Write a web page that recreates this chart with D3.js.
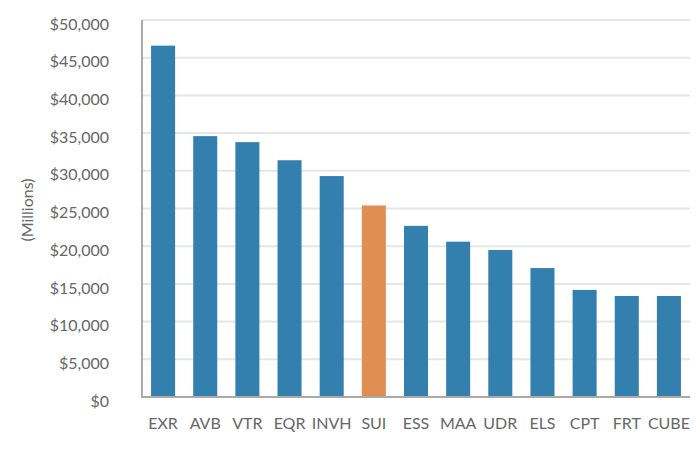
<!DOCTYPE html>
<html><head><meta charset="utf-8">
<script src="https://cdn.jsdelivr.net/npm/d3@7"></script>
<style>body{margin:0;background:#fff;} text{font-family:Lato,"Open Sans",sans-serif;}</style>
</head><body><svg id="c" width="700" height="450"></svg>
<script>
const categories = ["EXR","AVB","VTR","EQR","INVH","SUI","ESS","MAA","UDR","ELS","CPT","FRT","CUBE"];
const values = [46600,34600,33800,31400,29300,25400,22700,20600,19500,17100,14200,13400,13400];
const highlight = ["SUI"];
const yTicks = [0,5000,10000,15000,20000,25000,30000,35000,40000,45000,50000];
const yLabel = "(Millions)";

const svg = d3.select("#c");
const m = {l:142, r:690, t:20, b:397};
const x = d3.scaleBand().domain(categories).range([m.l, m.r]).paddingInner(0.43).paddingOuter(0.215);
const y = d3.scaleLinear().domain([0,50000]).range([m.b, m.t]);
const fmt = d => "$" + d3.format(",")(d);

// gridlines
svg.append("g").selectAll("line").data(yTicks.filter(d=>d>0)).join("line")
  .attr("x1", m.l).attr("x2", m.r).attr("y1", d=>y(d)).attr("y2", d=>y(d))
  .attr("stroke", "#e6e6e6").attr("stroke-width", 2);

// y axis labels
const ya = svg.append("g").attr("transform", `translate(${m.l},4)`)
  .call(d3.axisLeft(y).tickValues(yTicks).tickFormat(fmt).tickSize(0).tickPadding(33));
ya.select(".domain").remove();
ya.selectAll("text").attr("fill","#666").style("font-size","16px");

// bars
svg.append("g").selectAll("rect").data(categories).join("rect")
  .attr("x", d=>x(d)).attr("width", x.bandwidth())
  .attr("y", (d,i)=>y(values[i])).attr("height", (d,i)=>y(0)-y(values[i]))
  .attr("fill", d=> highlight.includes(d) ? "#e08e52" : "#337fad");

// axes lines
svg.append("line").attr("x1", m.l).attr("x2", m.l).attr("y1", m.t).attr("y2", m.b+1)
  .attr("stroke","#aaa").attr("stroke-width",2);
svg.append("line").attr("x1", m.l).attr("x2", m.r).attr("y1", m.b).attr("y2", m.b)
  .attr("stroke","#aaa").attr("stroke-width",2);

// x axis labels
const xa = svg.append("g").attr("transform", `translate(0,${m.b})`)
  .call(d3.axisBottom(x).tickSize(0).tickPadding(21));
xa.select(".domain").remove();
xa.selectAll("text").attr("fill","#666").style("font-size","16px");

// y label
svg.append("text").attr("transform","translate(33,210) rotate(-90)")
  .attr("text-anchor","middle").attr("fill","#666").style("font-size","16px").text(yLabel);
</script></body></html>
